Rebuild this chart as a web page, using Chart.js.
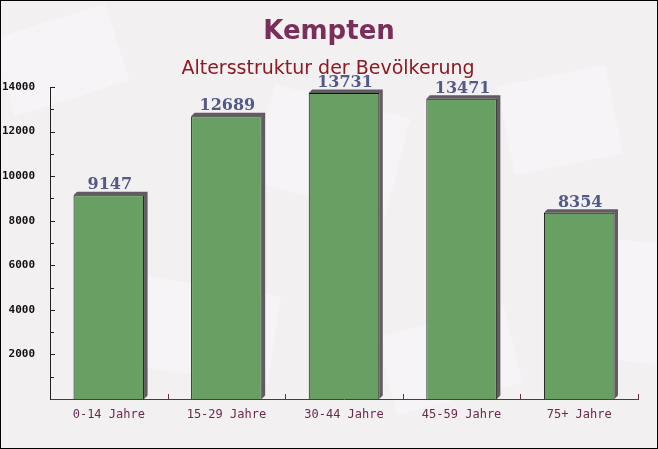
<!DOCTYPE html>
<html>
<head>
<meta charset="utf-8">
<script src="https://cdn.jsdelivr.net/npm/chart.js@4/dist/chart.umd.min.js"></script>
<style>
html,body{margin:0;padding:0;background:#f4f1f3;}
#wrap{width:658px;height:449px;position:relative;}
canvas{display:block;}
</style>
</head>
<body>
<div id="wrap"><canvas id="c" width="658" height="449"></canvas></div>
<script>
const title = "Kempten";
const subtitle = "Altersstruktur der Bevölkerung";
const categories = ["0-14 Jahre", "15-29 Jahre", "30-44 Jahre", "45-59 Jahre", "75+ Jahre"];
const population = [9147, 12689, 13731, 13471, 8354];
const yTicks = [2000, 4000, 6000, 8000, 10000, 12000, 14000];

const bgPlugin = {
  id: 'bg',
  beforeDraw(chart) {
    const ctx = chart.ctx;
    ctx.save();
    ctx.fillStyle = '#f3f0f2';
    ctx.fillRect(0, 0, chart.width, chart.height);
    ctx.fillStyle = 'rgba(255,255,255,0.3)';
    const shapes = [[60,60,120,80,-0.3],[330,150,140,100,0.25],[560,120,110,90,-0.2],[200,330,150,90,0.15],[450,360,130,80,-0.25],[620,300,90,120,0.1]];
    shapes.forEach(s => {
      ctx.save();
      ctx.translate(s[0], s[1]);
      ctx.rotate(s[4]);
      ctx.fillRect(-s[2]/2, -s[3]/2, s[2], s[3]);
      ctx.restore();
    });
    ctx.textAlign = 'center';
    ctx.textBaseline = 'alphabetic';
    ctx.fillStyle = '#7a2f5a';
    ctx.font = 'bold 26px "DejaVu Sans"';
    ctx.fillText(title, 329, 39);
    ctx.fillStyle = '#8b1a22';
    ctx.font = '19px "DejaVu Sans"';
    ctx.fillText(subtitle, 328, 74);
    ctx.restore();
  },
  afterDraw(chart) {
    const ctx = chart.ctx;
    ctx.save();
    ctx.strokeStyle = '#000';
    ctx.lineWidth = 1;
    ctx.strokeRect(0.5, 0.5, chart.width - 1, chart.height - 1);
    const y = chart.scales.y, x = chart.scales.x;
    ctx.strokeStyle = '#222';
    for (let v = 1000; v <= 14000; v += 1000) {
      const py = Math.round(y.getPixelForValue(v)) + 0.5;
      const len = (v % 2000 === 0) ? 5 : 4;
      ctx.beginPath();
      ctx.moveTo(y.right, py);
      ctx.lineTo(y.right + len, py);
      ctx.stroke();
    }
    ctx.strokeStyle = '#6b2a4a';
    for (let i = 0; i < categories.length; i++) {
      let px = (i < categories.length - 1) ? (x.getPixelForValue(i) + x.getPixelForValue(i + 1)) / 2 : x.right;
      px = Math.round(px) + 0.5;
      ctx.beginPath();
      ctx.moveTo(px, x.top);
      ctx.lineTo(px, x.top - 5);
      ctx.stroke();
    }
    ctx.restore();
  },
  beforeDatasetsDraw(chart) {
    const ctx = chart.ctx;
    const meta = chart.getDatasetMeta(0);
    ctx.save();
    ctx.fillStyle = '#625b62';
    meta.data.forEach(bar => {
      const l = bar.x - bar.width / 2, r = bar.x + bar.width / 2, t = bar.y, b = bar.base;
      const d = 3.5;
      ctx.beginPath();
      ctx.moveTo(l, t);
      ctx.lineTo(l + d, t - d);
      ctx.lineTo(r + d, t - d);
      ctx.lineTo(r + d, b - d);
      ctx.lineTo(r, b);
      ctx.lineTo(r, t);
      ctx.closePath();
      ctx.fill();
    });
    ctx.restore();
  },
  afterDatasetsDraw(chart) {
    const ctx = chart.ctx;
    const meta = chart.getDatasetMeta(0);
    ctx.save();
    ctx.fillStyle = '#535a8a';
    ctx.font = 'bold 16px "DejaVu Serif"';
    ctx.textAlign = 'center';
    ctx.textBaseline = 'alphabetic';
    meta.data.forEach((bar, i) => {
      ctx.fillText(String(population[i]), bar.x + 1, bar.y - 6);
    });
    ctx.restore();
  }
};

new Chart(document.getElementById('c'), {
  type: 'bar',
  data: {
    labels: categories,
    datasets: [{
      data: population,
      backgroundColor: '#68a063',
      borderColor: '#111',
      borderWidth: 1,
      borderSkipped: 'bottom',
      categoryPercentage: 1,
      barPercentage: 0.6
    }]
  },
  options: {
    responsive: false,
    animation: false,
    devicePixelRatio: 1,
    layout: { padding: { top: 87, left: 0, right: 20, bottom: 0 } },
    plugins: { legend: { display: false }, tooltip: { enabled: false }, title: { display: false } },
    scales: {
      x: {
        grid: { display: false },
        border: { display: true, color: '#6b2a4a', width: 1 },
        ticks: { color: '#6b2a50', font: { family: '"DejaVu Sans Mono"', size: 12 }, padding: 1, maxRotation: 0 },
        afterFit(s) { s.height = 50; }
      },
      y: {
        min: 0, max: 14000,
        afterBuildTicks(s) { s.ticks = yTicks.map(v => ({ value: v })); },
        grid: { display: false },
        border: { display: true, color: '#222', width: 1 },
        ticks: { color: '#111', font: { family: '"DejaVu Sans Mono"', size: 11, weight: 'bold' }, padding: 7, callback: v => String(v) },
        afterFit(s) { s.width = 50; }
      }
    }
  },
  plugins: [bgPlugin]
});
</script>
</body>
</html>
